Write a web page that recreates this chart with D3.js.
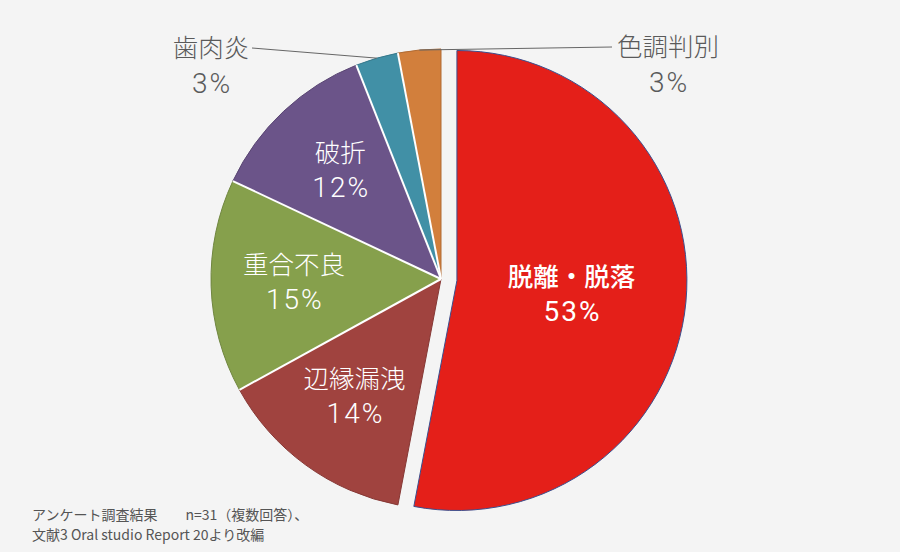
<!DOCTYPE html>
<meta charset="utf-8">
<script src="https://d3js.org/d3.v7.min.js"></script>
<style>
  body { margin: 0; background: #f4f4f4; }
  text { font-family: "Noto Sans CJK JP", "Noto Sans", sans-serif; }
  .pct { font-family: Roboto, "Noto Sans", sans-serif; letter-spacing: 2px; }
</style>
<svg id="chart" width="900" height="552"></svg>
<script>
    // data
    var categories = ["脱離・脱落", "辺縁漏洩", "重合不良", "破折", "歯肉炎", "色調判別"];
    var values = [53, 14, 15, 12, 3, 3];
    var colors = ["#e41f19", "#a0433f", "#86a04c", "#6b5489", "#4190a6", "#d27f3c"];
    var notes = ["アンケート調査結果　　n=31（複数回答）、", "文献3 Oral studio Report 20より改編"];

    var svg = d3.select("#chart"),
        width = +svg.attr("width"),
        height = +svg.attr("height");

    svg.append("rect").attr("width", width).attr("height", height).attr("fill", "#f4f4f4");

    var cx = 441, cy = 279, r = 230, explode = 16;

    var pie = d3.pie().sort(null).value(function (d) { return d.v; });
    var rows = categories.map(function (c, i) { return { name: c, v: values[i], color: colors[i], i: i }; });
    var arcs = pie(rows);

    var arc = d3.arc().innerRadius(0).outerRadius(r);

    var g = svg.append("g").attr("transform", "translate(" + cx + "," + cy + ")");

    function mid(d) { return (d.startAngle + d.endAngle) / 2; }
    function shift(d) {
        if (d.index !== 0) return [0, 0];
        return [Math.sin(mid(d)) * explode, -Math.cos(mid(d)) * explode];
    }

    var slices = g.selectAll("g.slice")
        .data(arcs)
        .enter()
        .append("g")
        .attr("class", "slice")
        .attr("transform", function (d) { return "translate(" + shift(d) + ")"; });

    slices.append("path")
        .attr("d", arc)
        .attr("fill", function (d) { return d.data.color; })
        .attr("stroke", function (d) { return d.index === 0 ? "#3b4f8f" : d3.color(d.data.color).darker(0.5); })
        .attr("stroke-width", 1);

    // white separators between the non-exploded slices
    var bounds = arcs.filter(function (d) { return d.index > 1; }).map(function (d) { return d.startAngle; });
    g.selectAll("line.sep")
        .data(bounds)
        .enter()
        .append("line")
        .attr("x1", 0).attr("y1", 0)
        .attr("x2", function (a) { return Math.sin(a) * r; })
        .attr("y2", function (a) { return -Math.cos(a) * r; })
        .attr("stroke", "#ffffff")
        .attr("stroke-width", 2);

    // inside labels
    var inside = arcs.filter(function (d) { return d.data.v >= 10; });
    inside.forEach(function (d) {
        var big = d.index === 0;
        var lr = big ? r * 0.5 : r * 0.64;
        var s = shift(d);
        var x = s[0] + Math.sin(mid(d)) * lr,
            y = s[1] - Math.cos(mid(d)) * lr + (big ? 5 : 0);
        g.append("text")
            .attr("x", x).attr("y", y - 10)
            .attr("text-anchor", "middle")
            .attr("fill", "#ffffff")
            .style("font-size", "25.5px")
            .style("font-weight", big ? "500" : "300")
            .text(d.data.name);
        g.append("text")
            .attr("class", "pct")
            .attr("x", x + 1).attr("y", y + 25)
            .attr("text-anchor", "middle")
            .attr("fill", "#ffffff")
            .style("font-size", "28px")
            .style("font-weight", big ? "400" : "300")
            .text(d.data.v + "%");
    });

    // outside labels with leader lines
    var outside = arcs.filter(function (d) { return d.data.v < 10; });
    var labelPos = [[-230, -231], [227, -232]];
    outside.forEach(function (d, k) {
        var px = Math.sin(mid(d)) * r, py = -Math.cos(mid(d)) * r;
        var lx = labelPos[k][0], ly = labelPos[k][1];
        var left = k === 0;
        g.append("line")
            .attr("x1", px).attr("y1", py)
            .attr("x2", left ? lx + 41 : lx - 56).attr("y2", ly)
            .attr("stroke", "#666")
            .attr("stroke-width", 1);
        g.append("text")
            .attr("x", lx).attr("y", ly + 9)
            .attr("text-anchor", "middle")
            .attr("fill", "#5a5a5a")
            .style("font-size", "25.5px")
            .style("font-weight", "300")
            .text(d.data.name);
        g.append("text")
            .attr("class", "pct")
            .attr("x", lx + 1).attr("y", ly + 45)
            .attr("text-anchor", "middle")
            .attr("fill", "#5a5a5a")
            .style("font-size", "28px")
            .style("font-weight", "300")
            .text(d.data.v + "%");
    });

    // footnote
    svg.append("g")
        .selectAll("text")
        .data(notes)
        .enter()
        .append("text")
        .attr("x", 32)
        .attr("y", function (d, i) { return 520 + i * 20; })
        .attr("fill", "#555")
        .style("font-size", "14px")
        .text(function (d) { return d; });
</script>
